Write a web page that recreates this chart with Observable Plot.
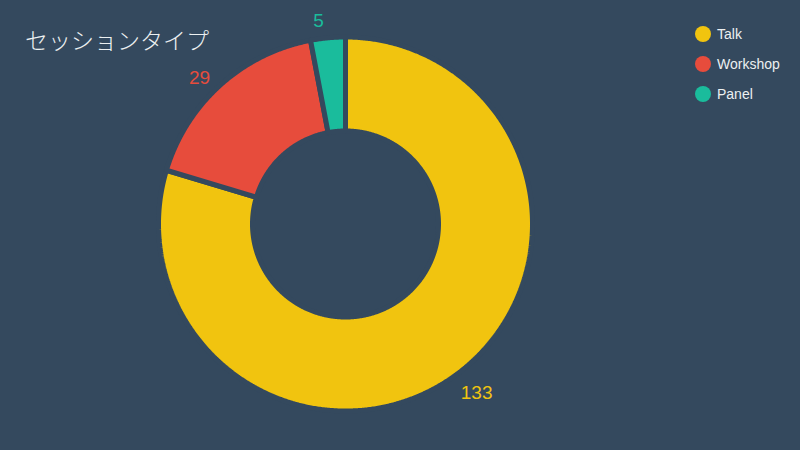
<!DOCTYPE html>
<html>
<head>
<meta charset="utf-8">
<script src="https://cdn.jsdelivr.net/npm/d3@7"></script>
<script src="https://cdn.jsdelivr.net/npm/@observablehq/plot@0.6"></script>
<style>
  html, body { margin: 0; padding: 0; background: #34495e; }
  #wrap { position: relative; width: 800px; height: 450px; background: #34495e; overflow: hidden; }
  #title { position: absolute; left: 25px; top: 28px; font-family: "Noto Sans CJK JP", sans-serif; font-size: 23px; line-height: 23px; color: #ecf0f1; font-weight: 300; white-space: nowrap; }
  #legend { position: absolute; left: 695px; top: 19px; font-family: "Liberation Sans", Arial, sans-serif; font-size: 14px; color: #ecf0f1; }
  .item { display: flex; align-items: center; height: 30px; }
  .sw { width: 16px; height: 16px; border-radius: 50%; margin-right: 6px; }
  svg { position: absolute; left: 0; top: 0; }
</style>
</head>
<body>
<div id="wrap">
  <div id="title"></div>
  <div id="legend"></div>
</div>
<script>
const title = "セッションタイプ";
const categories = ["Talk", "Workshop", "Panel"];
const values = [133, 29, 5];
const colors = ["#f1c40f", "#e74c3c", "#1abc9c"];

const bg = "#34495e";
const W = 800, H = 450;
const cx = 345, cy = 223.5;
const gap = 5;
const outerR = 184.5 + gap / 2, innerR = 95.5 - gap / 2;
const labelR = 210;
const deg = Math.PI / 180;
const labelShift = -2 * deg;

const total = d3.sum(values);
let acc = 0;
const slices = categories.map((c, i) => {
  const a0 = acc / total * 2 * Math.PI;
  acc += values[i];
  const a1 = acc / total * 2 * Math.PI;
  return {type: c, value: values[i], a0, a1, mid: (a0 + a1) / 2};
});

const pt = (r, a) => [cx + r * Math.sin(a), cy - r * Math.cos(a)];
const points = [];
for (const s of slices) {
  const arc = (r, from, to) => {
    const n = Math.max(2, Math.ceil(Math.abs(to - from) / (0.4 * deg)));
    for (let k = 0; k <= n; k++) {
      const a = from + (to - from) * k / n;
      const [x, y] = pt(r, a);
      points.push({type: s.type, x, y});
    }
  };
  arc(outerR, s.mid, s.a1);
  arc(innerR, s.a1, s.a0);
  arc(outerR, s.a0, s.mid);
}

const labels = slices.map(s => {
  const [x, y] = pt(labelR, s.mid + labelShift);
  return {type: s.type, value: s.value, x, y};
});

const chart = Plot.plot({
  width: W, height: H,
  margin: 0,
  style: {background: "transparent"},
  x: {domain: [0, W], range: [0, W], axis: null},
  y: {domain: [0, H], range: [0, H], axis: null},
  color: {domain: categories, range: colors},
  marks: [
    Plot.line(points, {x: "x", y: "y", z: "type", fill: "type", stroke: bg, strokeWidth: gap, strokeLinejoin: "miter", curve: "linear"}),
    Plot.text(labels, {x: "x", y: "y", text: d => String(d.value), fill: "type", fontSize: 19, fontFamily: "Liberation Sans, Arial, sans-serif", textAnchor: "middle", lineAnchor: "middle", dy: 5})
  ]
});
document.getElementById("wrap").appendChild(chart);
document.getElementById("title").textContent = title;

const legend = document.getElementById("legend");
categories.forEach((c, i) => {
  const it = document.createElement("div");
  it.className = "item";
  const sw = document.createElement("div");
  sw.className = "sw";
  sw.style.background = colors[i];
  const t = document.createElement("span");
  t.textContent = c;
  it.appendChild(sw); it.appendChild(t);
  legend.appendChild(it);
});
</script>
</body>
</html>
